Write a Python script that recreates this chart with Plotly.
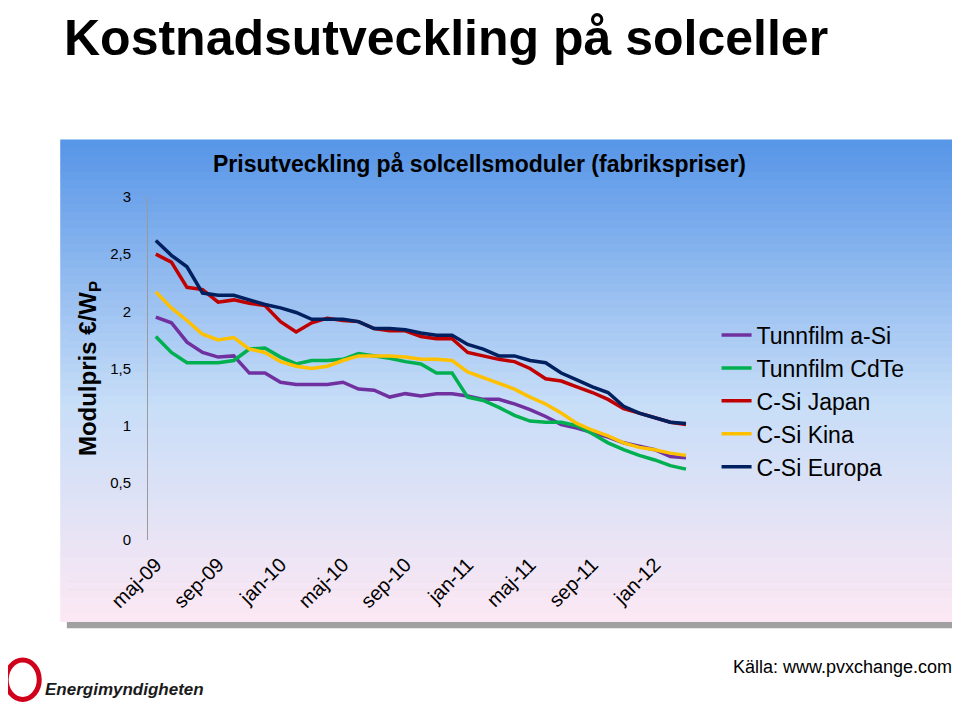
import plotly.graph_objects as go

months = ["maj-09", "jun-09", "jul-09", "aug-09", "sep-09", "okt-09", "nov-09", "dec-09",
          "jan-10", "feb-10", "mar-10", "apr-10", "maj-10", "jun-10", "jul-10", "aug-10",
          "sep-10", "okt-10", "nov-10", "dec-10", "jan-11", "feb-11", "mar-11", "apr-11",
          "maj-11", "jun-11", "jul-11", "aug-11", "sep-11", "okt-11", "nov-11", "dec-11",
          "jan-12", "feb-12", "mar-12"]
tick_labels = ["maj-09", "sep-09", "jan-10", "maj-10", "sep-10", "jan-11", "maj-11", "sep-11", "jan-12"]

a_si = [1.95, 1.90, 1.73, 1.64, 1.60, 1.61, 1.46, 1.46, 1.38, 1.36, 1.36, 1.36, 1.38, 1.32, 1.31, 1.25,
        1.28, 1.26, 1.28, 1.28, 1.26, 1.23, 1.23, 1.19, 1.14, 1.08, 1.01, 0.98, 0.94, 0.90, 0.85, 0.82,
        0.79, 0.73, 0.72]
cdte = [1.78, 1.64, 1.55, 1.55, 1.55, 1.57, 1.67, 1.68, 1.60, 1.54, 1.57, 1.57, 1.58, 1.63, 1.61, 1.59,
        1.56, 1.54, 1.46, 1.46, 1.25, 1.22, 1.16, 1.09, 1.04, 1.03, 1.03, 1.00, 0.93, 0.85, 0.79, 0.74,
        0.70, 0.65, 0.62]
japan = [2.50, 2.43, 2.21, 2.19, 2.08, 2.10, 2.07, 2.05, 1.91, 1.82, 1.90, 1.94, 1.92, 1.91, 1.85, 1.83,
         1.83, 1.78, 1.76, 1.76, 1.64, 1.61, 1.58, 1.56, 1.50, 1.41, 1.39, 1.34, 1.29, 1.23, 1.15, 1.11,
         1.07, 1.03, 1.01]
kina = [2.17, 2.03, 1.92, 1.80, 1.75, 1.77, 1.67, 1.64, 1.56, 1.52, 1.50, 1.52, 1.57, 1.61, 1.61, 1.61,
        1.60, 1.58, 1.58, 1.57, 1.47, 1.42, 1.37, 1.32, 1.25, 1.19, 1.11, 1.02, 0.96, 0.91, 0.85, 0.81,
        0.79, 0.76, 0.74]
europa = [2.62, 2.49, 2.39, 2.16, 2.14, 2.14, 2.10, 2.06, 2.03, 1.99, 1.93, 1.93, 1.93, 1.91, 1.85, 1.85,
          1.84, 1.81, 1.79, 1.79, 1.71, 1.67, 1.61, 1.61, 1.57, 1.55, 1.46, 1.40, 1.34, 1.29, 1.17, 1.11,
          1.07, 1.03, 1.02]

series = [("Tunnfilm a-Si", a_si, "#7030a0"),
          ("Tunnfilm CdTe", cdte, "#00b050"),
          ("C-Si Japan", japan, "#c00000"),
          ("C-Si Kina", kina, "#ffc000"),
          ("C-Si Europa", europa, "#002060")]

fig = go.Figure()
for name, vals, col in series:
    fig.add_trace(go.Scatter(x=months, y=vals, name=name, mode="lines",
                             line=dict(color=col, width=3.5)))

# panel background: shadow + vertical gradient bands
x0, x1, y0, y1 = -0.159, 1.46, -0.239, 1.166
shapes = [dict(type="rect", xref="paper", yref="paper", x0=x0 + 0.012, x1=x1 + 0.012,
               y0=y0 - 0.018, y1=y1 - 0.018, fillcolor="#a0a0a0", line_width=0, layer="below")]
top, mid, bot = (88, 150, 232), (200, 222, 248), (252, 232, 244)
n = 60
for i in range(n):
    t = i / (n - 1)
    if t < 0.55:
        u = t / 0.55
        c = [int(top[k] + (mid[k] - top[k]) * u) for k in range(3)]
    else:
        u = (t - 0.55) / 0.45
        c = [int(mid[k] + (bot[k] - mid[k]) * u) for k in range(3)]
    ya = y1 - (y1 - y0) * i / n
    yb = y1 - (y1 - y0) * (i + 1) / n
    shapes.append(dict(type="rect", xref="paper", yref="paper", x0=x0, x1=x1, y0=yb, y1=ya + 0.002,
                       fillcolor="rgb(%d,%d,%d)" % tuple(c), line_width=0, layer="below"))
# logo swirl
shapes.append(dict(type="circle", xref="paper", yref="paper", x0=-0.257, x1=-0.197, y0=-0.465, y1=-0.35,
                   line=dict(color="#d0021b", width=5)))

fig.update_layout(
    width=960, height=704,
    margin=dict(l=140, r=268, t=189, b=172),
    paper_bgcolor="white", plot_bgcolor="rgba(0,0,0,0)",
    font=dict(family="Liberation Sans, Arial", color="black"),
    shapes=shapes,
    showlegend=True,
    legend=dict(x=1.03, y=0.66, xanchor="left", yanchor="top", font=dict(size=23),
                bgcolor="rgba(0,0,0,0)", tracegroupgap=0),
    xaxis=dict(tickvals=tick_labels, ticktext=tick_labels, tickangle=-45, automargin=False,
               tickfont=dict(size=20), showgrid=False, showline=False,
               ticks="", range=[-0.5, 34.9], ticklabelstandoff=8),
    yaxis=dict(range=[0, 3], dtick=0.5, automargin=False,
               tickfont=dict(size=15), showgrid=False, showline=True, linecolor="#9a9a9a",
               ticks="", zeroline=False, ticklabelstandoff=13,
               title=dict(text="<b>Modulpris €/W<sub>P</sub></b>", font=dict(size=24), standoff=6)),
    separators=", ",
    annotations=[
        dict(text="<b>Kostnadsutveckling på solceller</b>", xref="paper", yref="paper",
             x=-0.155, y=1.465, xanchor="left", yanchor="middle", showarrow=False,
             font=dict(size=50)),
        dict(text="<b>Prisutveckling på solcellsmoduler (fabrikspriser)</b>", xref="paper", yref="paper",
             x=0.6, y=1.095, xanchor="center", yanchor="middle", showarrow=False,
             font=dict(size=23)),
        dict(text="Källa: www.pvxchange.com", xref="paper", yref="paper",
             x=1.46, y=-0.37, xanchor="right", yanchor="middle", showarrow=False,
             font=dict(size=18)),
        dict(text="<b><i>Energimyndigheten</i></b>", xref="paper", yref="paper",
             x=-0.19, y=-0.435, xanchor="left", yanchor="middle", showarrow=False,
             font=dict(size=17, color="#1a1a1a")),
    ],
)

fig.write_html("out.html")
